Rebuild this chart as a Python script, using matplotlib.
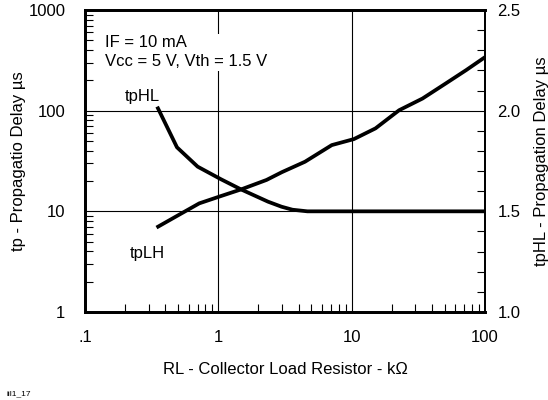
import matplotlib
matplotlib.use("Agg")
import matplotlib.pyplot as plt
from matplotlib.ticker import NullFormatter, LogLocator, MultipleLocator

plt.rcParams['font.family'] = ['Liberation Sans', 'DejaVu Sans']

# tpLH - left (log) axis
rl_lh = [0.344, 0.49, 0.72, 1.05, 1.48, 2.3, 3.0, 4.47, 7.1, 10.4, 15.1, 22.7, 34.0, 51.0, 72.3, 100.0]
tp_lh = [6.9, 9.0, 12.0, 14.2, 16.5, 20.5, 24.5, 31.1, 45.5, 52.2, 66.7, 101, 132, 187, 253, 340]

# tpHL - right (linear) axis
rl_hl = [0.348, 0.49, 0.70, 1.05, 1.48, 2.36, 2.98, 3.6, 4.66, 10, 100]
tp_hl = [2.02, 1.818, 1.722, 1.659, 1.609, 1.548, 1.523, 1.508, 1.5, 1.5, 1.5]

x_ticks = [0.1, 1, 10, 100]
x_labels = ['.1', '1', '10', '100']
yl_ticks = [1, 10, 100, 1000]
yl_labels = ['1', '10', '100', '1000']
yr_ticks = [1.0, 1.5, 2.0, 2.5]
yr_labels = ['1.0', '1.5', '2.0', '2.5']

FS = 12

fig = plt.figure(figsize=(5.48, 4.0), dpi=100)
ax = fig.add_axes([0.155, 0.22, 0.73, 0.755])
ax.set_xscale('log')
ax.set_yscale('log')
ax.set_xlim(0.1, 100)
ax.set_ylim(1, 1000)

ax.set_xticks(x_ticks)
ax.set_xticklabels(x_labels)
ax.set_yticks(yl_ticks)
ax.set_yticklabels(yl_labels)
ax.xaxis.set_minor_locator(LogLocator(base=10, subs=range(2, 10)))
ax.yaxis.set_minor_locator(LogLocator(base=10, subs=range(2, 10)))
ax.xaxis.set_minor_formatter(NullFormatter())
ax.yaxis.set_minor_formatter(NullFormatter())
ax.tick_params(which='both', direction='in', labelsize=FS)
ax.tick_params(axis='x', which='major', length=0, pad=13)
ax.tick_params(axis='y', which='major', length=0, pad=14)
ax.tick_params(which='minor', length=6, width=0.8)
ax.grid(True, which='major', color='black', lw=0.8)

ax.plot(rl_lh, tp_lh, color='black', lw=2.7, solid_capstyle='butt', zorder=3)

ax2 = ax.twinx()
ax2.set_ylim(1.0, 2.5)
ax2.set_yticks(yr_ticks)
ax2.set_yticklabels(yr_labels)
ax2.yaxis.set_minor_locator(MultipleLocator(0.1))
ax2.tick_params(which='both', direction='in', labelsize=FS)
ax2.tick_params(which='major', length=0, pad=9)
ax2.tick_params(which='minor', length=6, width=0.8)
ax2.plot(rl_hl, tp_hl, color='black', lw=2.7, solid_capstyle='butt', zorder=3)

for a in (ax, ax2):
    for s in ('left', 'bottom', 'top'):
        a.spines[s].set_linewidth(2)
    a.spines['right'].set_linewidth(1.3)

ax.text(0.05, 0.86, 'IF = 10 mA\nVcc = 5 V, Vth = 1.5 V', transform=ax.transAxes,
        fontsize=FS, ha='left', va='center', linespacing=1.35,
        bbox=dict(facecolor='white', edgecolor='none', pad=1), zorder=5)
ax.text(0.1, 0.715, 'tpHL', transform=ax.transAxes, fontsize=FS, ha='left', va='center')
ax.text(0.113, 0.195, 'tpLH', transform=ax.transAxes, fontsize=FS, ha='left', va='center')

ax.set_xlabel('RL - Collector Load Resistor - k\u03a9', fontsize=FS, labelpad=12)
ax.set_ylabel('tp - Propagatio Delay \u00b5s', fontsize=FS, labelpad=2)
ax2.set_ylabel('tpHL - Propagation Delay \u00b5s', fontsize=FS, labelpad=10)

fig.text(0.012, 0.012, 'iil1_17', fontsize=6)

fig.savefig('out.png', dpi=100)
